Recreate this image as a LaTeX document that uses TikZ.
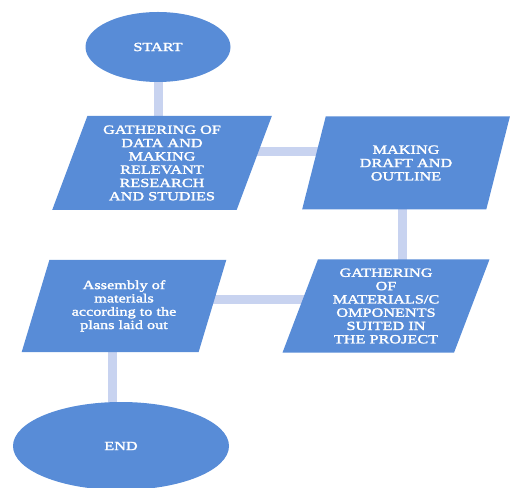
\documentclass[tikz,border=0pt]{standalone}
\usepackage{fontspec}
\newfontfamily\boxfont{Liberation Serif}[FakeStretch=1.3,FakeBold=2]
\usetikzlibrary{shapes.geometric,backgrounds}
\definecolor{boxblue}{RGB}{88,140,215}
\definecolor{linkblue}{RGB}{200,211,240}
\begin{document}
\begin{tikzpicture}[x=1pt, y=1pt,
    term/.style = {ellipse, fill=boxblue, text=white, font=\boxfont\fontsize{12.5}{13.3}\selectfont},
    box/.style = {trapezium, trapezium left angle=70, trapezium right angle=110, trapezium stretches=true,
        fill=boxblue, text=white, align=center, inner sep=2pt, font=\boxfont\fontsize{12.5}{13.3}\selectfont},
    link/.style = {draw=linkblue, line width=9pt}]
    \useasboundingbox (0,0) rectangle (510,487);
    \node[term, minimum width=145, minimum height=70] (start) at (158,440) {START};
    \node[box, minimum width=220, minimum height=94] (1) at (162,324) {GATHERING OF\\DATA AND\\MAKING\\RELEVANT\\RESEARCH\\AND STUDIES};
    \node[box, minimum width=208, minimum height=93] (2) at (406,324) {MAKING\\DRAFT AND\\OUTLINE};
    \node[box, minimum width=207, minimum height=93] (3) at (386,181) {GATHERING\\OF\\MATERIALS/C\\OMPONENTS\\SUITED IN\\THE PROJECT};
    \node[box, minimum width=205, minimum height=92] (4) at (124,181) {Assembly of\\materials\\according to the\\plans laid out};
    \node[term, minimum width=216, minimum height=88] (finish) at (121,41) {END};
    \begin{scope}[on background layer]
        \draw[link] (start) -- (start |- 1);
        \draw[link] ([yshift=11pt]1.center) -- ([yshift=11pt]2.center);
        \draw[link] ([xshift=-4pt]2.center) -- ([xshift=-4pt]2.center |- 3);
        \draw[link] ([yshift=6pt]3.center) -- ([yshift=6pt]4.center);
        \draw[link] ([xshift=-12pt]4.center) -- ([xshift=-12pt]4.center |- finish);
    \end{scope}
\end{tikzpicture}
\end{document}
